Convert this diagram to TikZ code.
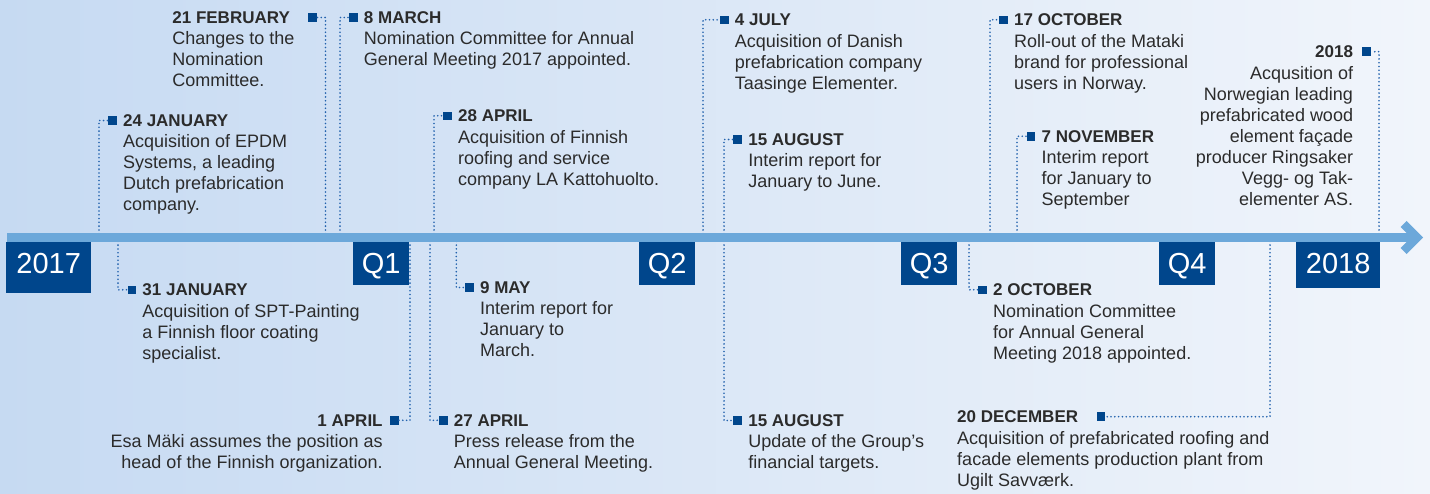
\documentclass[tikz,border=0pt]{standalone}
\usepackage{fontspec}
\setmainfont{Liberation Sans}
\usetikzlibrary{positioning}
\definecolor{tlblue}{HTML}{00468C}
\definecolor{axisblue}{HTML}{6CA8DA}
\definecolor{dotblue}{HTML}{2262AD}
\definecolor{bgleft}{HTML}{C6DAF2}
\definecolor{bgright}{HTML}{F1F5FB}
\definecolor{txtgray}{HTML}{2B2B2B}

\begin{document}
\begin{tikzpicture}[x=1pt,y=-1pt,
    mk/.style={fill=tlblue,minimum size=8.5pt,inner sep=0pt},
    evdate/.style={inner sep=0pt,text=txtgray,font=\fontsize{17}{21}\selectfont\bfseries,text height=12.2pt,text depth=0pt},
    evtext/.style={inner sep=0pt,text=txtgray,font=\fontsize{18}{21}\selectfont,align=left,anchor=north west},
    evtextr/.style={evtext,align=right,anchor=north east},
    conn/.style={draw=dotblue,line width=1.8pt,dash pattern=on 0pt off 3.8pt,line cap=round},
    qbox/.style={fill=tlblue,text=white,font=\fontsize{29}{29}\selectfont,inner xsep=0pt,inner ysep=9pt,text height=22pt,text depth=3pt,minimum width=56pt,anchor=north west}]
    \useasboundingbox (0,0) rectangle (1430,493);
    \shade[left color=bgleft,right color=bgright] (0,0) rectangle (1430,493);

    % points on the time axis
    \coordinate (aJan24) at (99,237.5);
    \coordinate (aFeb21) at (325.5,237.5);
    \coordinate (aMar8) at (340,237.5);
    \coordinate (aApr28) at (434,237.5);
    \coordinate (aJul4) at (703,237.5);
    \coordinate (aAug15) at (724,237.5);
    \coordinate (aOct17) at (990,237.5);
    \coordinate (aNov7) at (1017,237.5);
    \coordinate (aY2018) at (1379,237.5);
    \coordinate (aJan31) at (118,237.5);
    \coordinate (aApr1) at (410,237.5);
    \coordinate (aApr27) at (430,237.5);
    \coordinate (aMay9) at (456.3,237.5);
    \coordinate (aAug15b) at (724,237.5);
    \coordinate (aOct2) at (969,237.5);
    \coordinate (aDec20) at (1270,237.5);

    \node[mk] (mJan24) at (112.5,120.5) {};
    \node[mk] (mFeb21) at (312.5,17.5) {};
    \node[mk] (mMar8) at (353.3,17.5) {};
    \node[mk] (mApr28) at (447.5,115.8) {};
    \node[mk] (mJul4) at (724.3,19.8) {};
    \node[mk] (mAug15) at (737.7,139.5) {};
    \node[mk] (mOct17) at (1003.5,19.8) {};
    \node[mk] (mNov7) at (1031,136.3) {};
    \node[mk] (mY2018) at (1366.7,51.7) {};
    \node[mk] (mJan31) at (131.8,289.8) {};
    \node[mk] (mApr1) at (394.3,420.3) {};
    \node[mk] (mApr27) at (443.3,420.3) {};
    \node[mk] (mMay9) at (469.5,287.5) {};
    \node[mk] (mAug15b) at (737.7,420.5) {};
    \node[mk] (mOct2) at (982.5,289.8) {};
    \node[mk] (mDec20) at (1100.8,416.7) {};

    \draw[conn] (aJan24) |- (mJan24.west);
    \draw[conn] (aFeb21) |- (mFeb21.east);
    \draw[conn] (aMar8) |- (mMar8.west);
    \draw[conn] (aApr28) |- (mApr28.west);
    \draw[conn] (aJul4) |- (mJul4.west);
    \draw[conn] (aAug15) |- (mAug15.west);
    \draw[conn] (aOct17) |- (mOct17.west);
    \draw[conn] (aNov7) |- (mNov7.west);
    \draw[conn] (aY2018) |- (mY2018.east);
    \draw[conn] (aJan31) |- (mJan31.west);
    \draw[conn] (aApr1) |- (mApr1.east);
    \draw[conn] (aApr27) |- (mApr27.west);
    \draw[conn] (aMay9) |- (mMay9.west);
    \draw[conn] (aAug15b) |- (mAug15b.west);
    \draw[conn] (aOct2) |- (mOct2.west);
    \draw[conn] (aDec20) |- (mDec20.east);

    % axis with open arrow head
    \draw[axisblue,line width=9pt] (7,237.5) -- (1414,237.5);
    \draw[axisblue,line width=8.5pt,line join=miter] (1403.5,224) -- (1417,237.5) -- (1403.5,251);

    \node[qbox,minimum width=85pt,text depth=11pt] (y17) at (6,242) {2017};
    \node[qbox] (q1) at (353,242) {Q1};
    \node[qbox] (q2) at (639,242) {Q2};
    \node[qbox] (q3) at (901,242) {Q3};
    \node[qbox] (q4) at (1159,242) {Q4};
    \node[qbox,minimum width=84pt,text depth=6pt] (y18) at (1296,242) {2018};

    % events above the axis
    \node[evdate,right=6pt of mJan24] (dJan24) {24 JANUARY};
    \node[evtext] (tJan24) at ([yshift=-6.3pt]dJan24.base west) {\strut Acquisition of EPDM\\Systems, a leading\\Dutch prefabrication\\company.};
    \node[evdate,left=18pt of mFeb21] (dFeb21) {21 FEBRUARY};
    \node[evtext] (tFeb21) at ([yshift=-6.3pt]dFeb21.base west) {\strut Changes to the\\Nomination\\Committee.};
    \node[evdate,right=6pt of mMar8] (dMar8) {8 MARCH};
    \node[evtext] (tMar8) at ([yshift=-6.3pt]dMar8.base west) {\strut Nomination Committee for Annual\\General Meeting 2017 appointed.};
    \node[evdate,right=6pt of mApr28] (dApr28) {28 APRIL};
    \node[evtext] (tApr28) at ([yshift=-6.3pt]dApr28.base west) {\strut Acquisition of Finnish\\roofing and service\\company LA Kattohuolto.};
    \node[evdate,right=6pt of mJul4] (dJul4) {4 JULY};
    \node[evtext] (tJul4) at ([yshift=-6.3pt]dJul4.base west) {\strut Acquisition of Danish\\prefabrication company\\Taasinge Elementer.};
    \node[evdate,right=6pt of mAug15] (dAug15) {15 AUGUST};
    \node[evtext] (tAug15) at ([yshift=-6.3pt]dAug15.base west) {\strut Interim report for\\January to June.};
    \node[evdate,right=6pt of mOct17] (dOct17) {17 OCTOBER};
    \node[evtext] (tOct17) at ([yshift=-6.3pt]dOct17.base west) {\strut Roll-out of the Mataki\\brand for professional\\users in Norway.};
    \node[evdate,right=6pt of mNov7] (dNov7) {7 NOVEMBER};
    \node[evtext] (tNov7) at ([yshift=-6.3pt]dNov7.base west) {\strut Interim report\\for January to\\September};
    \node[evdate,left=9pt of mY2018] (dY2018) {2018};
    \node[evtextr] (tY2018) at ([yshift=-6.3pt]dY2018.base east) {\strut Acqusition of\\Norwegian leading\\prefabricated wood\\element façade\\producer Ringsaker\\Vegg- og Tak-\\elementer AS.};

    % events below the axis
    \node[evdate,right=6pt of mJan31] (dJan31) {31 JANUARY};
    \node[evtext] (tJan31) at ([yshift=-6.3pt]dJan31.base west) {\strut Acquisition of SPT-Painting\\a Finnish floor coating\\specialist.};
    \node[evdate,left=7pt of mApr1] (dApr1) {1 APRIL};
    \node[evtextr] (tApr1) at ([yshift=-6.3pt]dApr1.base east) {\strut Esa Mäki assumes the position as\\head of the Finnish organization.};
    \node[evdate,right=6pt of mApr27] (dApr27) {27 APRIL};
    \node[evtext] (tApr27) at ([yshift=-6.3pt]dApr27.base west) {\strut Press release from the\\Annual General Meeting.};
    \node[evdate,right=6pt of mMay9] (dMay9) {9 MAY};
    \node[evtext] (tMay9) at ([yshift=-6.3pt]dMay9.base west) {\strut Interim report for\\January to\\March.};
    \node[evdate,right=6pt of mAug15b] (dAug15b) {15 AUGUST};
    \node[evtext] (tAug15b) at ([yshift=-6.3pt]dAug15b.base west) {\strut Update of the Group’s\\financial targets.};
    \node[evdate,right=6pt of mOct2] (dOct2) {2 OCTOBER};
    \node[evtext] (tOct2) at ([yshift=-6.3pt]dOct2.base west) {\strut Nomination Committee\\for Annual General\\Meeting 2018 appointed.};
    \node[evdate,left=18pt of mDec20] (dDec20) {20 DECEMBER};
    \node[evtext] (tDec20) at ([yshift=-6.3pt]dDec20.base west) {\strut Acquisition of prefabricated roofing and\\facade elements production plant from\\Ugilt Savværk.};
\end{tikzpicture}
\end{document}
